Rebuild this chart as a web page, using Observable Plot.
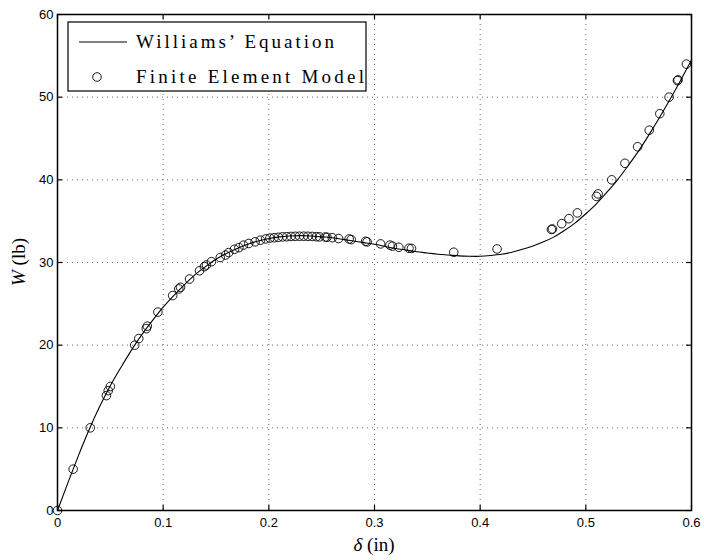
<!DOCTYPE html>
<html>
<head>
<meta charset="utf-8">
<script src="https://cdn.jsdelivr.net/npm/d3@7"></script>
<script src="https://cdn.jsdelivr.net/npm/@observablehq/plot@0.6"></script>
<style>
  html, body { margin: 0; padding: 0; background: #fff; }
  #chart { width: 704px; height: 560px; }
</style>
</head>
<body>
<div id="chart"></div>
<script>
// Williams' Equation curve
const curveDelta = [0, 0.01, 0.02, 0.03, 0.04, 0.05, 0.06, 0.07, 0.08, 0.09, 0.10, 0.11, 0.12, 0.13, 0.14, 0.15, 0.16, 0.17, 0.18, 0.19, 0.20, 0.21, 0.22, 0.23, 0.24, 0.25, 0.26, 0.27, 0.28, 0.29, 0.30, 0.31, 0.32, 0.33, 0.34, 0.35, 0.36, 0.37, 0.38, 0.39, 0.40, 0.41, 0.42, 0.43, 0.44, 0.45, 0.46, 0.47, 0.48, 0.49, 0.50, 0.51, 0.52, 0.53, 0.54, 0.55, 0.56, 0.57, 0.58, 0.59, 0.60];
const curveW = [0, 3.4, 6.7, 9.8, 12.6, 15.1, 17.3, 19.4, 21.3, 23.0, 24.6, 26.0, 27.3, 28.5, 29.5, 30.4, 31.1, 31.7, 32.2, 32.6, 32.9, 33.1, 33.2, 33.25, 33.2, 33.1, 33.0, 32.8, 32.6, 32.4, 32.2, 31.95, 31.7, 31.5, 31.3, 31.15, 31.0, 30.9, 30.8, 30.75, 30.75, 30.85, 31.0, 31.25, 31.6, 32.0, 32.5, 33.1, 33.9, 34.8, 35.9, 37.1, 38.5, 40.0, 41.7, 43.5, 45.5, 47.6, 49.8, 52.1, 54.5];

// Finite Element Model points
const feDelta = [0, 0.0148, 0.031, 0.0463, 0.048, 0.050, 0.0731, 0.0769, 0.084, 0.085, 0.095, 0.109, 0.1148, 0.1164, 0.125, 0.1344, 0.139, 0.141, 0.1457, 0.154, 0.159, 0.162, 0.1675, 0.1717, 0.176, 0.181, 0.187, 0.192, 0.197, 0.201, 0.205, 0.209, 0.213, 0.217, 0.221, 0.225, 0.229, 0.233, 0.237, 0.241, 0.245, 0.248, 0.2535, 0.255, 0.260, 0.266, 0.276, 0.278, 0.2916, 0.293, 0.3058, 0.3146, 0.317, 0.323, 0.3326, 0.335, 0.375, 0.416, 0.4674, 0.4684, 0.4772, 0.484, 0.492, 0.510, 0.5116, 0.5245, 0.537, 0.549, 0.560, 0.570, 0.5788, 0.5867, 0.5873, 0.5952];
const feW = [0, 5, 10, 13.9, 14.5, 15, 20, 20.8, 22, 22.3, 24, 26, 26.8, 27, 28, 29, 29.5, 29.7, 30.1, 30.6, 30.9, 31.2, 31.6, 31.8, 32.1, 32.3, 32.5, 32.7, 32.85, 32.95, 33.0, 33.05, 33.1, 33.12, 33.15, 33.17, 33.18, 33.18, 33.17, 33.15, 33.12, 33.1, 33.08, 33.05, 33.0, 32.9, 32.85, 32.77, 32.56, 32.5, 32.25, 32.1, 31.98, 31.84, 31.72, 31.7, 31.24, 31.64, 34, 34.05, 34.7, 35.3, 36, 38, 38.3, 40, 42, 44, 46, 48, 50, 52, 52.1, 54];

const xTicks = [0, 0.1, 0.2, 0.3, 0.4, 0.5, 0.6];
const xTickLabels = ["0", "0.1", "0.2", "0.3", "0.4", "0.5", "0.6"];
const yTicks = [0, 10, 20, 30, 40, 50, 60];
const yTickLabels = ["0", "10", "20", "30", "40", "50", "60"];

const legendLabels = ["Williams\u2019 Equation", "Finite Element Model"];

const curve = curveDelta.map((d, i) => ({delta: d, W: curveW[i]}));
const fe = feDelta.map((d, i) => ({delta: d, W: feW[i]}));

const W = 704, H = 560;
const mL = 57, mR = 13, mT = 14, mB = 50;
const innerW = W - mL - mR, innerH = H - mT - mB;
const tickLen = 5;
const serif = "'Liberation Serif', 'DejaVu Serif', serif";

const chart = Plot.plot({
  width: W, height: H,
  marginLeft: mL, marginRight: mR, marginTop: mT, marginBottom: mB,
  style: {fontFamily: "'Liberation Sans', Arial, sans-serif", fontSize: "13px", background: "#fff", color: "#000"},
  x: {domain: [0, 0.6]},
  y: {domain: [0, 60]},
  marks: [
    Plot.ruleX(xTicks.slice(1, -1), {stroke: "#000", strokeWidth: 1, strokeDasharray: "1,4", strokeOpacity: 0.6}),
    Plot.ruleY(yTicks.slice(1, -1), {stroke: "#000", strokeWidth: 1, strokeDasharray: "1,4", strokeOpacity: 0.6}),
    Plot.tickX(xTicks, {x: d => d, insetTop: innerH - tickLen, stroke: "#000", strokeWidth: 1.2}),
    Plot.tickX(xTicks, {x: d => d, insetBottom: innerH - tickLen, stroke: "#000", strokeWidth: 1.2}),
    Plot.tickY(yTicks, {y: d => d, insetRight: innerW - tickLen, stroke: "#000", strokeWidth: 1.2}),
    Plot.tickY(yTicks, {y: d => d, insetLeft: innerW - tickLen, stroke: "#000", strokeWidth: 1.2}),
    Plot.line(curve, {x: "delta", y: "W", stroke: "#000", strokeWidth: 1.1, curve: "natural"}),
    Plot.dot(fe, {x: "delta", y: "W", r: 4.3, stroke: "#000", strokeWidth: 0.9, fill: "none"}),
    Plot.frame({stroke: "#000", strokeWidth: 1.5}),
    Plot.axisX(xTicks, {tickSize: 0, tickPadding: 7, label: null, tickFormat: (d, i) => xTickLabels[i]}),
    Plot.axisY(yTicks, {tickSize: 0, tickPadding: 4, label: null, tickFormat: (d, i) => yTickLabels[i]})
  ]
});

document.getElementById("chart").appendChild(chart);

const svg = d3.select(chart);

// Axis labels
const xl = svg.append("text")
  .attr("x", mL + innerW / 2).attr("y", 551)
  .attr("text-anchor", "middle")
  .style("font-family", serif).style("font-size", "19px").attr("fill", "#000");
xl.append("tspan").style("font-style", "italic").text("\u03B4");
xl.append("tspan").text(" (in)");

const yl = svg.append("text")
  .attr("transform", `translate(25,${mT + innerH / 2}) rotate(-90)`)
  .attr("text-anchor", "middle")
  .style("font-family", serif).style("font-size", "19px").attr("fill", "#000");
yl.append("tspan").style("font-style", "italic").text("W");
yl.append("tspan").text(" (lb)");

// Legend
const lg = svg.append("g").attr("text-anchor", "start");
lg.append("rect").attr("x", 68).attr("y", 22).attr("width", 298).attr("height", 69)
  .attr("fill", "#fff").attr("stroke", "#000").attr("stroke-width", 1.2);
lg.append("line").attr("x1", 79).attr("x2", 127).attr("y1", 42).attr("y2", 42)
  .attr("stroke", "#000").attr("stroke-width", 1.1);
lg.append("circle").attr("cx", 97).attr("cy", 77).attr("r", 4.3)
  .attr("fill", "none").attr("stroke", "#000").attr("stroke-width", 0.9);
lg.append("text").attr("x", 136).attr("y", 48).attr("text-anchor", "start")
  .attr("textLength", 198).attr("lengthAdjust", "spacing")
  .style("font-family", serif).style("font-size", "19px").attr("fill", "#000").text(legendLabels[0]);
lg.append("text").attr("x", 136).attr("y", 83).attr("text-anchor", "start")
  .attr("textLength", 228).attr("lengthAdjust", "spacing")
  .style("font-family", serif).style("font-size", "19px").attr("fill", "#000").text(legendLabels[1]);
</script>
</body>
</html>
